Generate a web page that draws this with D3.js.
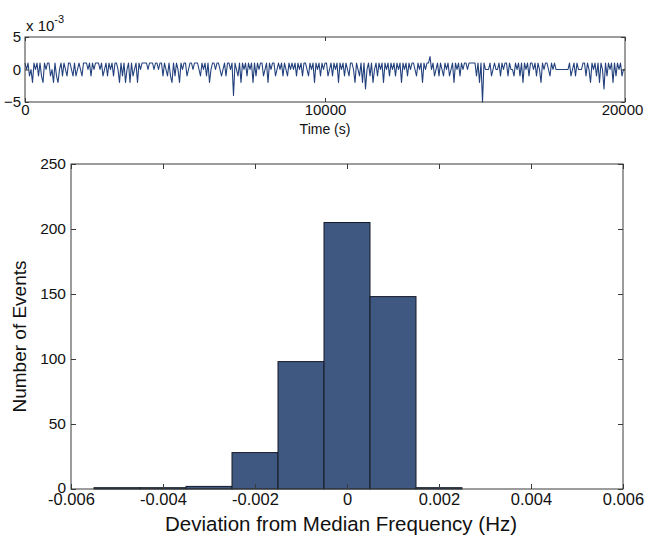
<!DOCTYPE html>
<html>
<head>
<meta charset="utf-8">
<script src="https://cdn.jsdelivr.net/npm/d3@7"></script>
<style>
  body { margin: 0; background: #fff; }
  text { font-family: "Liberation Sans", Arial, sans-serif; fill: #111; }
</style>
</head>
<body>
<svg id="chart" width="645" height="539"></svg>
<script>
// frequency deviation (units of 1e-3 Hz), one row per 1000 s, 50 s apart
const deviationRows = [
  [1, 0, 1, -1, 0, -2, 1, 0, 1, -1, 1, -1, -2, 1, 0, 1, 1, -1, 0, -2],
  [1, -1, -2, 0, 1, -1, 1, 0, -1, 1, 1, 0, -1, 1, -1, 0, 1, 0, -1, 1],
  [1, 1, 0, 1, -1, 1, 0, 1, 1, 1, 0, 1, -1, 0, 1, -1, 1, 0, 1, -1],
  [1, 1, 0, -2, 1, -1, 1, -2, 0, 1, -2, 1, -1, 0, 1, -2, 1, 0, 1, 1],
  [1, 1, 0, 1, 1, 1, 0, 1, 1, 0, 1, 1, -1, 1, 0, -1, 1, -1, -2, 1],
  [-1, 1, 0, -2, 1, 0, 1, 1, -1, 0, 1, 1, 0, 1, 1, 1, 0, -1, 1, 0],
  [1, -1, 1, -2, 0, 1, 1, 0, 1, 1, 0, -1, 0, 1, -1, 1, 1, 0, 1, -4],
  [1, 0, -1, 1, -2, 1, 0, 1, -1, 1, 0, 1, -2, 1, -1, 1, 0, 1, 1, -1],
  [0, 1, -2, 1, 0, 1, 1, -1, 0, 1, 0, 1, -1, 1, 0, -1, 1, 0, 1, 0],
  [1, -1, 1, 0, 1, -1, 1, 1, 0, -1, 1, 0, 1, -2, 1, 0, 1, -1, 1, 0],
  [1, 1, -1, 0, 1, -1, 1, 0, 1, -2, 1, 0, 1, -1, 1, 0, -1, 1, 1, 0],
  [-2, 1, 0, -1, 1, -2, 1, -3, 0, 1, -1, 1, -2, 0, 1, -1, 1, 0, 1, -2],
  [1, 0, 1, -1, 1, 0, 1, -1, 1, 0, 1, -2, 1, 0, 1, -1, 1, 0, 1, 1],
  [0, -1, 1, 0, 1, -2, 1, 0, 1, 1, 2, 0, 1, -1, 0, 1, -1, 1, 0, -1],
  [1, 0, 1, -1, 0, 1, -2, 1, 0, 1, -1, 1, 0, 1, 1, 0, 1, 1, 1, 1],
  [1, -1, 1, -2, 1, -5, 1, 0, 0, 0, 1, -1, 0, 1, 0, 0, 1, -1, 1, 0],
  [1, 1, -1, 1, 0, 0, -1, 1, 0, 1, -1, 1, -2, 1, 0, 1, -1, 1, 1, 0],
  [1, -1, 1, 0, -2, 1, 0, 1, 1, 0, -1, 1, 0, 1, 0, 0, 0, 0, 0, 0],
  [0, 0, 0, 1, -1, 0, 1, -1, 1, 0, 0, 0, 1, 1, -1, 1, 0, -2, 1, 0],
  [1, -1, 1, -2, 1, 0, -3, 1, -1, 1, 0, 1, -2, 1, -1, 1, 0, 1, -1, 0],
  [0]
];
const sampleStep = 50; // seconds

const binCenters = [-0.005, -0.004, -0.003, -0.002, -0.001, 0, 0.001, 0.002];
const binCounts = [1, 1, 2, 28, 98, 205, 148, 1];
const binWidth = 0.001;

const timeTicks = [0, 10000, 20000];
const devTicks = [-5, 0, 5];
const freqTicks = [-0.006, -0.004, -0.002, 0, 0.002, 0.004, 0.006];
const countTicks = [0, 50, 100, 150, 200, 250];

const svg = d3.select('#chart');
const axisColor = '#3a3a3a';

function styleAxis(g, fontSize) {
  g.select('.domain').remove();
  g.selectAll('line').attr('stroke', axisColor);
  g.selectAll('text').attr('font-size', fontSize).attr('fill', '#111');
}

// ---------- top panel: time series ----------
const tsBox = { left: 25, right: 625, top: 37, bottom: 102 };
const series = deviationRows.flat().map((v, i) => ({ t: i * sampleStep, v: v }));

const xt = d3.scaleLinear().domain([0, 20000]).range([tsBox.left, tsBox.right]);
const yt = d3.scaleLinear().domain([-5, 5]).range([tsBox.bottom, tsBox.top]);

svg.append('path')
  .datum(series)
  .attr('fill', 'none')
  .attr('stroke', '#21407c')
  .attr('stroke-width', 1.1)
  .attr('stroke-linejoin', 'round')
  .attr('d', d3.line().x((d) => xt(d.t)).y((d) => yt(d.v)));

svg.append('rect')
  .attr('x', tsBox.left).attr('y', tsBox.top)
  .attr('width', tsBox.right - tsBox.left).attr('height', tsBox.bottom - tsBox.top)
  .attr('fill', 'none').attr('stroke', axisColor);

svg.append('g')
  .attr('transform', `translate(0, ${tsBox.bottom})`)
  .call(d3.axisBottom(xt).tickValues(timeTicks).tickSize(-4).tickPadding(2).tickFormat(d3.format('d')))
  .call((g) => styleAxis(g, 15))
  .call((g) => g.selectAll('text').filter((d) => d === 20000).attr('dx', -3));
svg.append('g')
  .attr('transform', `translate(0, ${tsBox.top})`)
  .call(d3.axisTop(xt).tickValues(timeTicks).tickSize(-4).tickFormat(''))
  .call((g) => styleAxis(g, 15));
svg.append('g')
  .attr('transform', `translate(${tsBox.left}, 0)`)
  .call(d3.axisLeft(yt).tickValues(devTicks).tickSize(-4).tickPadding(4))
  .call((g) => styleAxis(g, 15));
svg.append('g')
  .attr('transform', `translate(${tsBox.right}, 0)`)
  .call(d3.axisRight(yt).tickValues(devTicks).tickSize(-4).tickFormat(''))
  .call((g) => styleAxis(g, 15));

const expo = svg.append('text').attr('x', tsBox.left + 1).attr('y', 31).attr('font-size', 15);
expo.append('tspan').text('x 10');
expo.append('tspan').attr('dy', -8).attr('font-size', 11).text('-3');

svg.append('text')
  .attr('x', (tsBox.left + tsBox.right) / 2).attr('y', 134)
  .attr('text-anchor', 'middle').attr('font-size', 14)
  .text('Time (s)');

// ---------- bottom panel: histogram ----------
const hist = { left: 71, right: 623, top: 164, bottom: 489 };
const bins = binCenters.map((c, i) => ({ x0: c - binWidth / 2, x1: c + binWidth / 2, n: binCounts[i] }));

const xh = d3.scaleLinear().domain([-0.006, 0.006]).range([hist.left, hist.right]);
const yh = d3.scaleLinear().domain([0, 250]).range([hist.bottom, hist.top]);

svg.append('g')
  .selectAll('rect')
  .data(bins)
  .join('rect')
  .attr('x', (d) => xh(d.x0))
  .attr('y', (d) => yh(d.n))
  .attr('width', (d) => xh(d.x1) - xh(d.x0))
  .attr('height', (d) => yh(0) - yh(d.n))
  .attr('fill', '#3e5882')
  .attr('stroke', '#151a26')
  .attr('stroke-width', 1);

svg.append('rect')
  .attr('x', hist.left).attr('y', hist.top)
  .attr('width', hist.right - hist.left).attr('height', hist.bottom - hist.top)
  .attr('fill', 'none').attr('stroke', axisColor);

svg.append('g')
  .attr('transform', `translate(0, ${hist.bottom})`)
  .call(d3.axisBottom(xh).tickValues(freqTicks).tickSize(-5).tickPadding(4)
    .tickFormat((d) => (d === 0 ? '0' : d.toFixed(3))))
  .call((g) => styleAxis(g, 16.5));
svg.append('g')
  .attr('transform', `translate(0, ${hist.top})`)
  .call(d3.axisTop(xh).tickValues(freqTicks).tickSize(-5).tickFormat(''))
  .call((g) => styleAxis(g, 15));
svg.append('g')
  .attr('transform', `translate(${hist.left}, 0)`)
  .call(d3.axisLeft(yh).tickValues(countTicks).tickSize(-5).tickPadding(5))
  .call((g) => styleAxis(g, 15.5))
  .call((g) => g.selectAll('text').filter((d) => d === 0).attr('dy', '0.2em'));
svg.append('g')
  .attr('transform', `translate(${hist.right}, 0)`)
  .call(d3.axisRight(yh).tickValues(countTicks).tickSize(-5).tickFormat(''))
  .call((g) => styleAxis(g, 15));

svg.append('text')
  .attr('transform', `translate(26, ${(hist.top + hist.bottom) / 2 + 10}) rotate(-90)`)
  .attr('text-anchor', 'middle').attr('font-size', 19)
  .text('Number of Events');

svg.append('text')
  .attr('x', (hist.left + hist.right) / 2 - 6).attr('y', 531)
  .attr('text-anchor', 'middle').attr('font-size', 20.5)
  .text('Deviation from Median Frequency (Hz)');
</script>
</body>
</html>
